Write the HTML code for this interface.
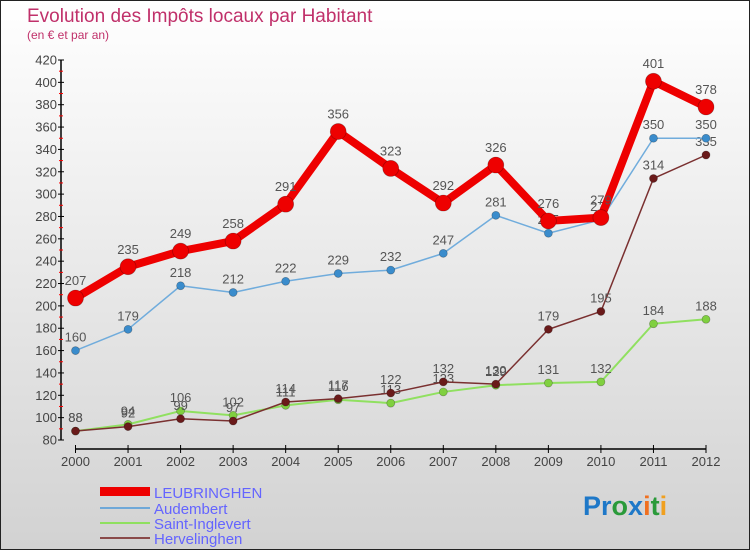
<!DOCTYPE html>
<html><head><meta charset="utf-8"><style>
body{margin:0;width:750px;height:550px;overflow:hidden;font-family:"Liberation Sans",sans-serif}
</style></head><body>
<svg width="750" height="550" xmlns="http://www.w3.org/2000/svg">
<defs><linearGradient id="bg" x1="0" y1="0" x2="0" y2="1"><stop offset="0" stop-color="#ffffff"/><stop offset="1" stop-color="#d2d2d2"/></linearGradient></defs>
<rect x="0.5" y="0.5" width="749" height="549" fill="url(#bg)" stroke="#222"/>
<text x="27" y="22" font-size="19" fill="#c0306a">Evolution des Impôts locaux par Habitant</text>
<text x="27" y="39" font-size="12" fill="#c0306a">(en € et par an)</text>
<g id="axes"></g>
<g id="series"></g>
<g id="legend" font-size="15" fill="#6464ff">
<rect x="100" y="487" width="50" height="9" fill="#ee0000"/>
<text x="154" y="498">LEUBRINGHEN</text>
<line x1="100" x2="150" y1="508" y2="508" stroke="#6fa8d8" stroke-width="2"/>
<text x="154" y="514">Audembert</text>
<line x1="100" x2="150" y1="523" y2="523" stroke="#8fe060" stroke-width="2"/>
<text x="154" y="529">Saint-Inglevert</text>
<line x1="100" x2="150" y1="538" y2="538" stroke="#8a4a4a" stroke-width="2"/>
<text x="154" y="544">Hervelinghen</text>
</g>
<text x="583" y="515" font-size="27" font-weight="bold"><tspan fill="#1e78c8">Pr</tspan><tspan fill="#2a9a3a">o</tspan><tspan fill="#1e78c8">x</tspan><tspan fill="#f07020">i</tspan><tspan fill="#2a9a3a">t</tspan><tspan fill="#f0a020">i</tspan></text>
</svg>
<script>
const years=[2000,2001,2002,2003,2004,2005,2006,2007,2008,2009,2010,2011,2012];
const yTicks=[80,100,120,140,160,180,200,220,240,260,280,300,320,340,360,380,400,420];
const leubringhen=[207,235,249,258,291,356,323,292,326,276,279,401,378];
const audembert=[160,179,218,212,222,229,232,247,281,265,277,350,350];
const saintInglevert=[88,94,106,102,111,116,113,123,129,131,132,184,188];
const hervelinghen=[88,92,99,97,114,117,122,132,130,179,195,314,335];
const NS="http://www.w3.org/2000/svg";
function xs(i){return 75.5+i*(706-75.5)/(years.length-1);}
function ys(v){return 440-(v-80)*380/340;}
function mk(tag,attrs,parent,txt){const e=document.createElementNS(NS,tag);for(const k in attrs)e.setAttribute(k,attrs[k]);if(txt!==undefined)e.textContent=txt;parent.appendChild(e);return e;}
const axes=document.getElementById('axes');
let a=mk('line',{x1:61,x2:61,y1:60,y2:440,stroke:'#000','stroke-width':1.5},axes);


yTicks.forEach((t,i)=>{
 const y=ys(t);
 let l=mk('line',{x1:58,x2:64,y1:y,y2:y,stroke:'#000'},axes);
 
 
 let tx=mk('text',{x:57,y:y+4.5,'font-size':13,fill:'#444','text-anchor':'end'},axes,t);
 
 
 if(i<yTicks.length-1){let m=mk('line',{x1:59,x2:63,y1:ys(t+10),y2:ys(t+10),stroke:'#f00'},axes);
 
 }
});
let xa=mk('line',{x1:75,x2:706,y1:449,y2:449,stroke:'#000','stroke-width':1.5},axes);


years.forEach((yr,i)=>{
 let l=mk('line',{x1:xs(i),x2:xs(i),y1:445,y2:453,stroke:'#000'},axes);
 
 
 let t=mk('text',{x:xs(i),y:466,'font-size':13,fill:'#444','text-anchor':'middle'},axes,yr);
 
 
});
const sg=document.getElementById('series');
function series(vals,name,color,dot,w,r){
 const g=mk('g',{},sg);
 
 
 const p=mk('polyline',{points:vals.map((v,i)=>xs(i)+','+ys(v)).join(' '),fill:'none',stroke:color,'stroke-width':w,'stroke-linejoin':'round'},g);
 
 
 vals.forEach((v,i)=>{
  const c=mk('circle',{cx:xs(i),cy:ys(v),r:r,fill:dot,stroke:'rgba(0,0,0,0.3)','stroke-width':0.7},g);
  
  
  const t=mk('text',{x:xs(i),y:ys(v)-r-5,'font-size':13,fill:'#555','text-anchor':'middle'},g,v);
  
  
 });
}
series(saintInglevert,'saint-inglevert','#90e060','#80d040',2,4);
series(hervelinghen,'hervelinghen','#7a3030','#6a1a1a',1.5,4);
series(audembert,'audembert','#70acdc','#3a8ccc',1.5,4);
series(leubringhen,'leubringhen','#ee0000','#ee0000',8,8);
</script>
</body></html>
